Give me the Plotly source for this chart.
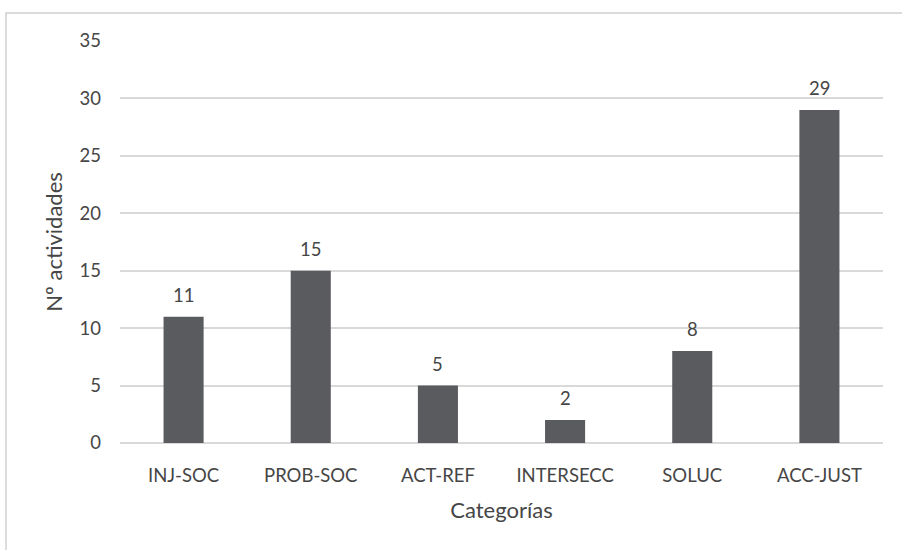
import plotly.graph_objects as go

# Activities counted per category
categorias = ["INJ-SOC", "PROB-SOC", "ACT-REF", "INTERSECC", "SOLUC", "ACC-JUST"]
actividades = [11, 15, 5, 2, 8, 29]
y_ticks = [0, 5, 10, 15, 20, 25, 30, 35]

TEXT = "#464646"
BAR = "#5a5b5f"
GRID = "#d9d9d9"
FONT = "Lato, 'Open Sans', sans-serif"

fig = go.Figure(
    go.Bar(
        x=categorias,
        y=actividades,
        marker=dict(color=BAR, line=dict(width=0)),
        cliponaxis=False,
    )
)

# Value labels sitting above each bar
for cat, val in zip(categorias, actividades):
    fig.add_annotation(
        x=cat,
        y=val,
        text=str(val),
        showarrow=False,
        yanchor="bottom",
        yshift=9,
        font=dict(size=18.5, color=TEXT, family=FONT),
    )

fig.update_layout(
    width=902,
    height=550,
    margin=dict(l=120, r=19, t=41, b=107),
    paper_bgcolor="white",
    plot_bgcolor="white",
    bargap=0.685,
    showlegend=False,
    font=dict(family=FONT, color=TEXT, size=18),
    xaxis=dict(
        title=dict(text="Categorías", font=dict(size=22, color=TEXT), standoff=18),
        tickfont=dict(size=18.5, color=TEXT),
        showgrid=False,
        showline=False,
        ticks="",
        ticklabelstandoff=19,
    ),
    yaxis=dict(
        title=dict(text="Nº actividades", font=dict(size=22, color=TEXT), standoff=10),
        range=[0, 35],
        tickvals=y_ticks,
        tickfont=dict(size=18.5, color=TEXT),
        showgrid=True,
        gridcolor=GRID,
        gridwidth=1.5,
        zeroline=True,
        zerolinecolor=GRID,
        zerolinewidth=1.5,
        showline=False,
        ticks="",
        ticklabelstandoff=18,
    ),
    shapes=[
        dict(
            type="rect",
            xref="paper",
            yref="paper",
            x0=-0.1494,
            x1=1.2,
            y0=-0.5,
            y1=1.0697,
            line=dict(color="#d0d0d0", width=1.5),
            fillcolor="rgba(0,0,0,0)",
            layer="below",
        )
    ],
)

fig.write_html("out.html")
